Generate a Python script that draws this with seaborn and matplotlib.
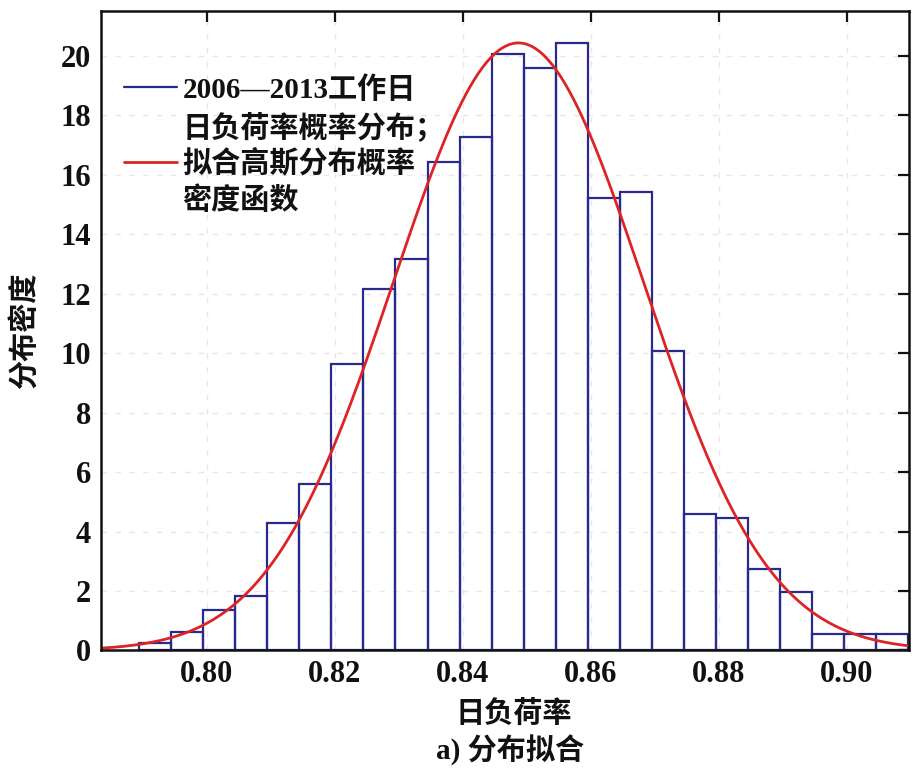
import numpy as np
import pandas as pd
import matplotlib
matplotlib.use("Agg")
import matplotlib.pyplot as plt
from matplotlib.lines import Line2D
import seaborn as sns

# Histogram bins of daily load rate (left edges, width 0.005) and probability densities
bin_left = [0.7895, 0.7945, 0.7995, 0.8045, 0.8095, 0.8145, 0.8195, 0.8245,
            0.8295, 0.8345, 0.8395, 0.8445, 0.8495, 0.8545, 0.8595, 0.8645,
            0.8695, 0.8745, 0.8795, 0.8845, 0.8895, 0.8945, 0.8995, 0.9045]
density = [0.26, 0.63, 1.36, 1.83, 4.27, 5.60, 9.62, 12.17,
           13.15, 16.43, 17.27, 20.07, 19.57, 20.43, 15.20, 15.42,
           10.07, 4.59, 4.44, 2.73, 1.98, 0.55, 0.55, 0.55]
bin_width = 0.005

# Fitted Gaussian parameters
mu = 0.8487
sigma = 0.01953

x_ticks = [0.80, 0.82, 0.84, 0.86, 0.88, 0.90]
x_tick_labels = ["0.80", "0.82", "0.84", "0.86", "0.88", "0.90"]
y_ticks = list(range(0, 21, 2))

# Legend labels, one entry per printed line; the key sits beside the first line
legend_hist = ["2006—2013工作日", "日负荷率概率分布；"]
legend_fit = ["拟合高斯分布概率", "密度函数"]
x_label = "日负荷率"
caption = "a) 分布拟合"
y_label = "分布密度"

sns.set_theme(style="white")
plt.rcParams["font.family"] = ["Liberation Serif", "Noto Sans CJK SC"]
plt.rcParams["font.weight"] = "bold"

fig = plt.figure(figsize=(9.13, 7.71), dpi=100)
ax = fig.add_axes([0.1106, 0.1563, 0.8850, 0.8294])

centers = [b + bin_width / 2 for b in bin_left]
df = pd.DataFrame({"rate": centers, "dens": density})

hist_color = "#2a2a8c"
fit_color = "#dc2424"

sns.histplot(data=df, x="rate", weights="dens", binwidth=bin_width,
             binrange=(bin_left[0], bin_left[-1] + bin_width), stat="count",
             fill=False, element="bars", color=hist_color, linewidth=1.6,
             ax=ax)

xs = np.linspace(0.7835, 0.912, 400)
pdf = np.exp(-0.5 * ((xs - mu) / sigma) ** 2) / (sigma * np.sqrt(2 * np.pi))
sns.lineplot(x=xs, y=pdf, color=fit_color, linewidth=2.0, ax=ax)

ax.set_xlim(0.7835, 0.9097)
ax.set_ylim(0, 21.5)
ax.set_xticks(x_ticks)
ax.set_xticklabels(x_tick_labels)
ax.set_yticks(y_ticks)

ax.grid(True, linestyle=(0, (4, 6)), color="#efe2ea", linewidth=1.0)
ax.set_axisbelow(True)

for s in ax.spines.values():
    s.set_visible(True)
    s.set_color("#111111")
    s.set_linewidth(1.8)

ax.tick_params(axis="both", direction="in", length=8, width=1.6,
               top=True, right=True, labelsize=22, colors="#111111",
               pad=7)
for lab in ax.get_xticklabels() + ax.get_yticklabels():
    lab.set_fontweight("bold")

ax.set_xlabel("")
ax.set_ylabel("")
fig.text(514 / 913, 1 - 714 / 771, x_label, ha="center",
         va="center", fontsize=21, fontweight="bold", color="#111111")
fig.text(510 / 913, 1 - 750 / 771, caption, ha="center",
         va="center", fontsize=21, fontweight="bold", color="#111111")
fig.text(24 / 913, 1 - 331 / 771, y_label, rotation=90, ha="center",
         va="center", fontsize=21, fontweight="bold", color="#111111")

blank = Line2D([], [], color="none")
handles = [Line2D([], [], color=hist_color, linewidth=1.6), blank,
           Line2D([], [], color=fit_color, linewidth=2.0), blank]
labels = [legend_hist[0], legend_hist[1], legend_fit[0], legend_fit[1]]
leg = ax.legend(handles, labels, loc="upper left",
                bbox_to_anchor=(0.0, 0.935), frameon=False, fontsize=21,
                handlelength=1.8, handletextpad=0.2, labelspacing=0.28,
                borderaxespad=0.4)
for t in leg.get_texts():
    t.set_fontweight("bold")
    t.set_color("#111111")

fig.savefig("out.png", dpi=100, facecolor="white")
